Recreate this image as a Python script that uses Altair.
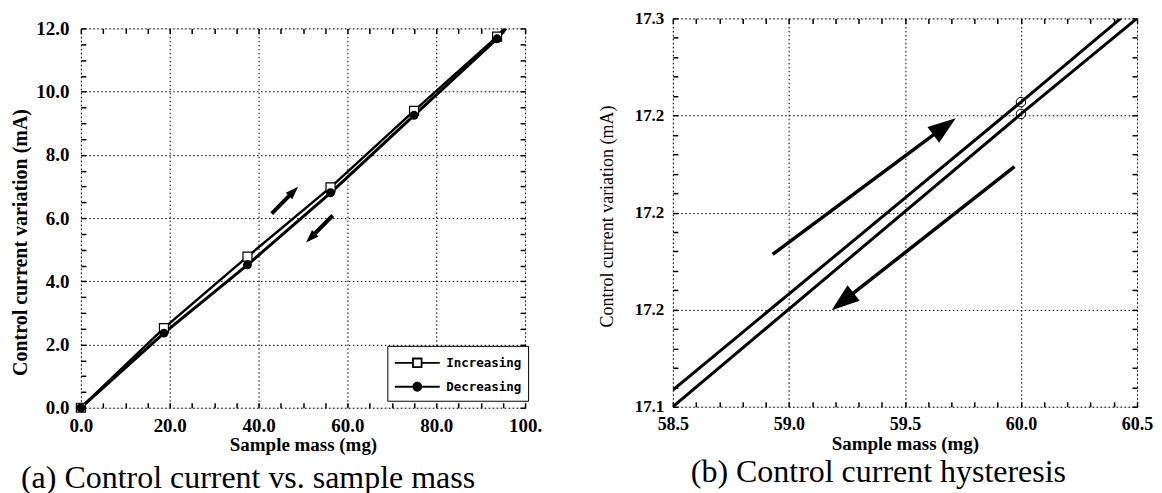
import math
import altair as alt
import pandas as pd

# ---------------- data: panel (a) ----------------
mass_a = [0.0, 18.7, 37.5, 56.2, 75.0, 93.7]
inc_a = [0.0, 2.52, 4.78, 6.97, 9.39, 11.74]
dec_a = [0.0, 2.36, 4.52, 6.80, 9.25, 11.67]
# the drawn lines run on past the last marker up to the frame
inc_line_x_a = mass_a + [95.3]
inc_line_y_a = inc_a + [12.0]
dec_line_x_a = mass_a + [95.7]
dec_line_y_a = dec_a + [12.0]

arrow_tail_x_a = [42.96, 56.7]
arrow_tail_y_a = [6.14, 6.08]
arrow_tip_x_a = [48.9, 50.7]
arrow_tip_y_a = [6.99, 5.23]

x_major_a = [0, 20, 40, 60, 80, 100]
x_labels_a = ["0.0", "20.0", "40.0", "60.0", "80.0", "100."]
y_major_a = [0, 2, 4, 6, 8, 10, 12]
y_labels_a = ["0.0", "2.0", "4.0", "6.0", "8.0", "10.0", "12.0"]
legend_labels = ["Increasing", "Decreasing"]

# ---------------- data: panel (b) ----------------
inc_line_x_b = [58.5, 60.0, 60.43]
inc_line_y_b = [17.1086, 17.2569, 17.3]
dec_line_x_b = [58.5, 60.0, 60.5]
dec_line_y_b = [17.1, 17.2508, 17.3]
marker_x_b = [60.0, 60.0]
marker_y_b = [17.2569, 17.2508]

arrow_tail_x_b = [58.930, 59.972]
arrow_tail_y_b = [17.1785, 17.2236]
arrow_tip_x_b = [59.719, 59.184]
arrow_tip_y_b = [17.2486, 17.1497]

x_major_b = [58.5, 59.0, 59.5, 60.0, 60.5]
x_labels_b = ["58.5", "59.0", "59.5", "60.0", "60.5"]
y_major_b = [17.1, 17.15, 17.2, 17.25, 17.3]
y_labels_b = ["17.1", "17.2", "17.2", "17.2", "17.3"]

# tick positions (major + minor)
x_ticks_a = [i * 5 for i in range(21)]
y_ticks_a = [i * 0.5 for i in range(25)]
x_ticks_b = [round(58.5 + i * 0.1, 3) for i in range(21)]
y_ticks_b = [round(17.1 + i * 0.01, 3) for i in range(21)]

SERIF = "Liberation Serif"
W_A, H_A = 445, 380
W_B, H_B = 465, 389


def match(v):
    return f"abs(datum.value - ({v})) < 1e-6"


def label_expr(vals, labels):
    e = "''"
    for v, l in reversed(list(zip(vals, labels))):
        e = f"{match(v)} ? '{l}' : ({e})"
    return e


def major_test(vals):
    return " || ".join(f"({match(v)})" for v in vals)


def main_axis(values, majors, labels, orient, title, lsize, tsize, tweight,
              lpad, **extra):
    return alt.Axis(
        values=values, orient=orient, title=title,
        labelExpr=label_expr(majors, labels), labelOverlap=False,
        labelFlush=False, labelFont=SERIF, labelFontSize=lsize,
        labelFontWeight="bold", labelColor="black", labelPadding=lpad,
        grid=True, gridColor="black", gridDash=[1.5, 2.5], gridWidth=1,
        gridOpacity={"condition": {"test": major_test(majors), "value": 1},
                     "value": 0},
        tickSize={"expr": "-5"}, tickColor="black", tickWidth=1.5,
        domain=False, titleFont=SERIF, titleFontSize=tsize,
        titleFontWeight=tweight, titleColor="black", **extra)


def mirror_axis(values, orient):
    return alt.Axis(values=values, orient=orient, title=None, grid=False,
                    labels=False, tickSize={"expr": "-5"}, tickColor="black",
                    tickWidth=1.5, domain=False)


HEAD = "M0,0L-0.7,2L0.7,2Z"


def arrow_df(tx, ty, hx, hy, ppx, ppy, head_len):
    rows = []
    for a, b, c, d in zip(tx, ty, hx, hy):
        dxp = (c - a) * ppx
        dyp = -(d - b) * ppy
        L = math.hypot(dxp, dyp)
        ang = math.degrees(math.atan2(dxp, -dyp)) % 360
        f = (L - 0.8 * head_len) / L
        rows.append(dict(x=a, y=b, x2=a + (c - a) * f, y2=b + (d - b) * f,
                         hx=c, hy=d, angle=ang))
    return pd.DataFrame(rows)


def arrows(df, xs, ys, shaft, head_size):
    shaft_l = alt.Chart(df).mark_rule(color="black", strokeWidth=shaft).encode(
        x=alt.X("x:Q", scale=xs, axis=None), y=alt.Y("y:Q", scale=ys, axis=None),
        x2="x2:Q", y2="y2:Q")
    head_l = alt.Chart(df).mark_point(
        shape=HEAD, filled=True, color="black", opacity=1, size=head_size,
        strokeWidth=0).encode(
        x=alt.X("hx:Q", scale=xs, axis=None), y=alt.Y("hy:Q", scale=ys, axis=None),
        angle=alt.Angle("angle:Q", scale=None))
    return [shaft_l, head_l]


# ---------------- panel (a) ----------------
xs_a = alt.Scale(domain=[0, 100], nice=False, zero=False)
ys_a = alt.Scale(domain=[0, 12], nice=False, zero=False)

inc_line_a = alt.Chart(pd.DataFrame({"mass": inc_line_x_a, "cur": inc_line_y_a})).mark_line(
    color="black", strokeWidth=2.5, clip=True).encode(
    x=alt.X("mass:Q", scale=xs_a,
            axis=main_axis(x_ticks_a, x_major_a, x_labels_a, "bottom",
                           "Sample mass (mg)", 19, 19, "bold", 14, titlePadding=0)),
    y=alt.Y("cur:Q", scale=ys_a,
            axis=main_axis(y_ticks_a, y_major_a, y_labels_a, "left",
                           "Control current variation (mA)", 19, 20, "bold", 17,
                           titleX=-54, titleY=214, titleBaseline="alphabetic")))

dec_line_a = alt.Chart(pd.DataFrame({"mass": dec_line_x_a, "cur": dec_line_y_a})).mark_line(
    color="black", strokeWidth=3, clip=True).encode(
    x=alt.X("mass:Q", scale=xs_a, axis=mirror_axis(x_ticks_a, "top")),
    y=alt.Y("cur:Q", scale=ys_a, axis=mirror_axis(y_ticks_a, "right")))

inc_pts_a = alt.Chart(pd.DataFrame({"mass": mass_a, "cur": inc_a})).mark_point(
    shape="square", filled=True, fill="white", stroke="black", strokeWidth=1.2,
    size=81, opacity=1).encode(
    x=alt.X("mass:Q", scale=xs_a, axis=None), y=alt.Y("cur:Q", scale=ys_a, axis=None))

dec_pts_a = alt.Chart(pd.DataFrame({"mass": mass_a, "cur": dec_a})).mark_point(
    shape="circle", filled=True, color="black", size=81, opacity=1).encode(
    x=alt.X("mass:Q", scale=xs_a, axis=None), y=alt.Y("cur:Q", scale=ys_a, axis=None))

arr_a = arrows(arrow_df(arrow_tail_x_a, arrow_tail_y_a, arrow_tip_x_a, arrow_tip_y_a,
                        W_A / 100, H_A / 12, 13), xs_a, ys_a, 4, 169)

INC_SYM = "M-2.25,0H-0.43M0.43,0H2.25M-0.43,-0.43H0.43V0.43H-0.43Z"
DEC_SYM = "M-2.25,0H2.25M0.4,0A0.4,0.4 0 1 1 -0.4,0A0.4,0.4 0 1 1 0.4,0Z"

leg = alt.Legend(
    orient="none", legendX=307, legendY=318, title=None, padding=6,
    rowPadding=5, labelFont="DejaVu Sans Mono", labelFontSize=12.5,
    labelFontWeight="bold", labelColor="black", labelOffset=18,
    symbolOffset=13, symbolSize=400, symbolStrokeColor="black",
    symbolStrokeWidth=1.8, symbolOpacity=1, strokeColor="black",
    fillColor="white")

legend_layer = alt.Chart(pd.DataFrame({"series": legend_labels})).transform_filter(
    "false").mark_point(color="black", opacity=1, size=400, strokeWidth=1.8).encode(
    shape=alt.Shape("series:N", scale=alt.Scale(domain=legend_labels,
                                                range=[INC_SYM, DEC_SYM]), legend=leg),
    fill=alt.Fill("series:N", scale=alt.Scale(domain=legend_labels,
                                              range=["white", "black"]), legend=leg),
    stroke=alt.Stroke("series:N", scale=alt.Scale(domain=legend_labels,
                                                  range=["black", "black"]), legend=leg))

left = alt.layer(inc_line_a, dec_line_a, inc_pts_a, dec_pts_a, *arr_a, legend_layer).resolve_axis(
    x="independent", y="independent").properties(
    width=W_A, height=H_A,
    title=alt.TitleParams("(a) Control current vs. sample mass", orient="bottom",
                          anchor="start", frame="group", dx=-60, offset=8,
                          font=SERIF, fontSize=32, fontWeight="normal", color="black"))

# an empty strip above panel (a): its frame sits lower than panel (b)'s
spacer = alt.Chart(pd.DataFrame({"v": [0]})).mark_point(opacity=0).encode(
    x=alt.X("v:Q", axis=None), y=alt.Y("v:Q", axis=None)).properties(
    width=W_A, height=1, view=alt.ViewBackground(stroke="transparent"))

left_col = alt.vconcat(spacer, left, spacing=-4).resolve_scale(
    shape="independent", fill="independent", stroke="independent")

# ---------------- panel (b) ----------------
xs_b = alt.Scale(domain=[58.5, 60.5], nice=False, zero=False)
ys_b = alt.Scale(domain=[17.1, 17.3], nice=False, zero=False)

inc_line_b = alt.Chart(pd.DataFrame({"mass": inc_line_x_b, "cur": inc_line_y_b})).mark_line(
    color="black", strokeWidth=3, clip=True).encode(
    x=alt.X("mass:Q", scale=xs_b,
            axis=main_axis(x_ticks_b, x_major_b, x_labels_b, "bottom",
                           "Sample mass (mg)", 18, 19, "bold", 14, titlePadding=1)),
    y=alt.Y("cur:Q", scale=ys_b,
            axis=main_axis(y_ticks_b, y_major_b, y_labels_b, "left",
                           "Control current variation (mA)", 17, 18, "normal", 14,
                           titleX=-60, titleY=198, titleBaseline="alphabetic")))

dec_line_b = alt.Chart(pd.DataFrame({"mass": dec_line_x_b, "cur": dec_line_y_b})).mark_line(
    color="black", strokeWidth=3, clip=True).encode(
    x=alt.X("mass:Q", scale=xs_b, axis=mirror_axis(x_ticks_b, "top")),
    y=alt.Y("cur:Q", scale=ys_b, axis=mirror_axis(y_ticks_b, "right")))

pts_b = alt.Chart(pd.DataFrame({"mass": marker_x_b, "cur": marker_y_b})).mark_point(
    shape="circle", filled=False, color="black", strokeWidth=1, size=90,
    opacity=1).encode(
    x=alt.X("mass:Q", scale=xs_b, axis=None), y=alt.Y("cur:Q", scale=ys_b, axis=None))

arr_b = arrows(arrow_df(arrow_tail_x_b, arrow_tail_y_b, arrow_tip_x_b, arrow_tip_y_b,
                        W_B / 2.0, H_B / 0.2, 28), xs_b, ys_b, 3.5, 784)

right = alt.layer(inc_line_b, dec_line_b, pts_b, *arr_b).resolve_axis(
    x="independent", y="independent").properties(
    width=W_B, height=H_B,
    title=alt.TitleParams("(b) Control current hysteresis", orient="bottom",
                          anchor="start", frame="group", dx=18, offset=3,
                          font=SERIF, fontSize=32, fontWeight="normal", color="black"))

chart = alt.hconcat(left_col, right, spacing=55).resolve_scale(
    shape="independent", fill="independent", stroke="independent").properties(
    padding={"left": 2, "right": 0, "top": 0, "bottom": 0}).configure_view(
    stroke="black", strokeWidth=2).configure(background="white")

chart.save("out.html", embed_options={"renderer": "svg", "actions": False})
